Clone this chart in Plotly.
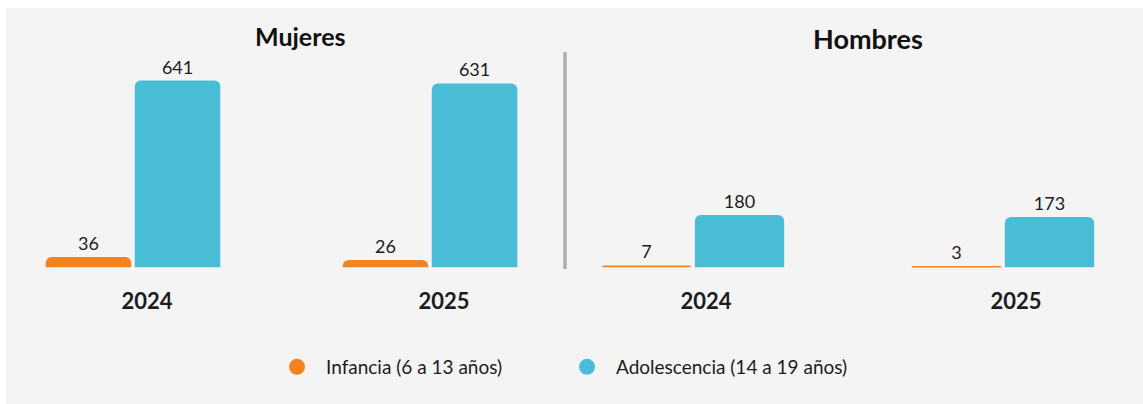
import plotly.graph_objects as go

# Data
years = [2024, 2025]
year_labels = ["2024", "2025"]
mujeres_infancia = [36, 26]
mujeres_adolescencia = [641, 631]
hombres_infancia = [7, 3]
hombres_adolescencia = [180, 173]

serie_infancia = "Infancia (6 a 13 años)"
serie_adolescencia = "Adolescencia (14 a 19 años)"
titulo_mujeres = "Mujeres"
titulo_hombres = "Hombres"

ORANGE = "#f18421"
BLUE = "#48bdd5"
PANEL = "#f3f4f3"
TEXT = "#1c1c1c"
FONT = "Lato"

W, H = 1143, 404


def px_x(p):
    return p / W


def px_y(p):
    return (H - p) / H


fig = go.Figure()


def add_bars(vals, color, xa, ya):
    fig.add_trace(go.Bar(
        x=years, y=vals, xaxis=xa, yaxis=ya,
        marker=dict(color=color, line=dict(width=0), cornerradius=6),
        text=[str(v) for v in vals], textposition="outside",
        textfont=dict(family=FONT, size=18, color=TEXT),
        cliponaxis=False, showlegend=False, hoverinfo="skip",
    ))


add_bars(mujeres_infancia, ORANGE, "x", "y")
add_bars(mujeres_adolescencia, BLUE, "x", "y")
add_bars(hombres_infancia, ORANGE, "x2", "y2")
add_bars(hombres_adolescencia, BLUE, "x2", "y2")

# Legend entries drawn as round markers
for name, color in [(serie_infancia, ORANGE), (serie_adolescencia, BLUE)]:
    fig.add_trace(go.Scatter(
        x=[None], y=[None], mode="markers", name=name,
        marker=dict(color=color, size=20, symbol="circle"),
        xaxis="x", yaxis="y",
    ))

ymax = 780
y_dom = [px_y(267.5), px_y(40)]

xcommon = dict(
    tickmode="array", tickvals=years, ticktext=year_labels,
    showgrid=False, zeroline=False, showline=False, ticks="",
    tickfont=dict(family=FONT, size=22, color=TEXT, weight="bold"),
    ticklabelstandoff=18, fixedrange=True,
)
ycommon = dict(range=[0, ymax], domain=y_dom, visible=False, fixedrange=True)

fig.update_layout(
    width=W, height=H,
    margin=dict(l=0, r=0, t=0, b=0),
    paper_bgcolor="white", plot_bgcolor="rgba(0,0,0,0)",
    barmode="group", bargap=0.4, bargroupgap=0.04,
    font=dict(family=FONT, color=TEXT),
    xaxis=dict(domain=[px_x(20), px_x(550)],
               range=[2024 - 113 / 297, 2025 + 120 / 297],
               anchor="y", ticklabelshift=14, **xcommon),
    xaxis2=dict(domain=[px_x(580), px_x(1130)],
                range=[2024 - 113 / 310, 2025 + 127 / 310],
                anchor="y2", ticklabelshift=13, **xcommon),
    yaxis=dict(anchor="x", **ycommon),
    yaxis2=dict(anchor="x2", **ycommon),
    legend=dict(
        orientation="h", x=px_x(268), xanchor="left",
        y=px_y(367), yanchor="middle",
        entrywidth=227, itemwidth=48, itemsizing="trace",
        font=dict(family=FONT, size=19, color=TEXT),
        bgcolor="rgba(0,0,0,0)",
    ),
    showlegend=True,
)

# Background panel and divider between the two groups
fig.add_shape(type="rect", xref="paper", yref="paper",
              x0=px_x(6), x1=1, y0=0, y1=px_y(8),
              fillcolor=PANEL, line=dict(width=0), layer="below")
fig.add_shape(type="line", xref="paper", yref="paper",
              x0=px_x(565), x1=px_x(565), y0=px_y(269), y1=px_y(52),
              line=dict(color="#b3afaf", width=3.5))

# Panel titles
fig.add_annotation(text=titulo_mujeres, xref="paper", yref="paper",
                   x=px_x(300), y=px_y(36), xanchor="center", yanchor="middle",
                   showarrow=False,
                   font=dict(family=FONT, size=25, color="#111111", weight="bold"))
fig.add_annotation(text=titulo_hombres, xref="paper", yref="paper",
                   x=px_x(868), y=px_y(39), xanchor="center", yanchor="middle",
                   showarrow=False,
                   font=dict(family=FONT, size=27, color="#111111", weight="bold"))

fig.write_html("out.html")
